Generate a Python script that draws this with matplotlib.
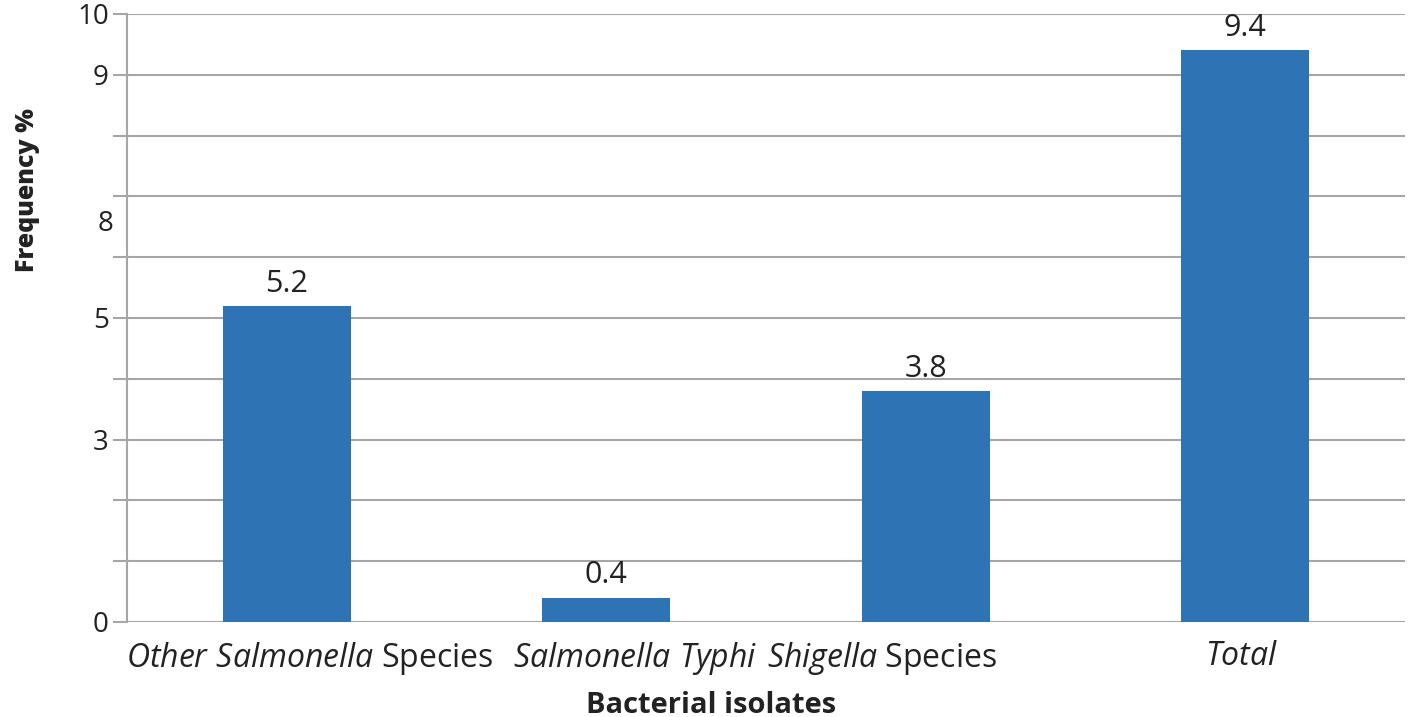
import matplotlib
matplotlib.use("Agg")
import matplotlib.pyplot as plt
import matplotlib.transforms as mtransforms

# data
categories = [r"$\mathit{Other\ Salmonella}$ Species", r"$\mathit{Salmonella\ Typhi}$",
              r"$\mathit{Shigella}$ Species", r"$\mathit{Total}$"]
frequency = [5.2, 0.4, 3.8, 9.4]
ytick_labels = ["0", "", "", "3", "", "5", "", "", "", "9", "10"]

plt.rcParams["mathtext.fontset"] = "custom"
plt.rcParams["mathtext.it"] = "Open Sans:italic"
plt.rcParams["mathtext.rm"] = "Open Sans"

grid_col = "#A6A6A6"
text_col = "#222222"

fig = plt.figure(figsize=(14.08, 7.17), dpi=100)
ax = fig.add_axes([127 / 1408, 95 / 717, 1278 / 1408, 608 / 717])

x = [i + 0.5 for i in range(len(categories))]
ax.bar(x, frequency, width=0.4, color="#2E74B5", zorder=3)
for xi, v in zip(x, frequency):
    ax.text(xi, v + 0.12, f"{v}", ha="center", va="bottom", fontsize=22,
            family="Open Sans", color=text_col, zorder=4)

ax.set_xlim(0, 4)
ax.set_ylim(0, 10)
ax.set_yticks(range(11))
ax.set_yticklabels(ytick_labels, family="Open Sans", fontsize=20, color=text_col)
# the "8" label sits between two gridlines in the original
ax.set_yticks([6.6], ["8"], minor=True)
ax.tick_params(axis="y", which="minor", length=0, pad=10, labelsize=20, labelcolor=text_col)
for lab in ax.get_yticklabels(minor=True):
    lab.set_family("Open Sans")
ax.tick_params(axis="y", which="major", length=10, width=1.5, color=grid_col, pad=3)
ax.yaxis.grid(True, color=grid_col, linewidth=1.5, zorder=0)

ax.set_xticks(x)
ax.set_xticklabels(categories, family="Open Sans", fontsize=23, color=text_col)
ax.tick_params(axis="x", length=0, pad=13)
shifts = [23, 29, -44, -4]
for lab, dx in zip(ax.get_xticklabels(), shifts):
    lab.set_transform(lab.get_transform() + mtransforms.ScaledTranslation(dx / 100, 0, fig.dpi_scale_trans))

for side in ["top", "right", "bottom"]:
    ax.spines[side].set_visible(False)
ax.spines["left"].set_color(grid_col)
ax.spines["left"].set_linewidth(1.5)

ax.set_xlabel("Bacterial isolates", family="Open Sans", fontsize=21, fontweight="bold",
              color=text_col)
ax.xaxis.set_label_coords(0.457, -0.113)
ax.set_ylabel("Frequency %", family="Open Sans", fontsize=18, fontweight="heavy",
              color=text_col)
ax.yaxis.set_label_coords(-0.068, 0.71)

fig.savefig("out.png", dpi=100)
